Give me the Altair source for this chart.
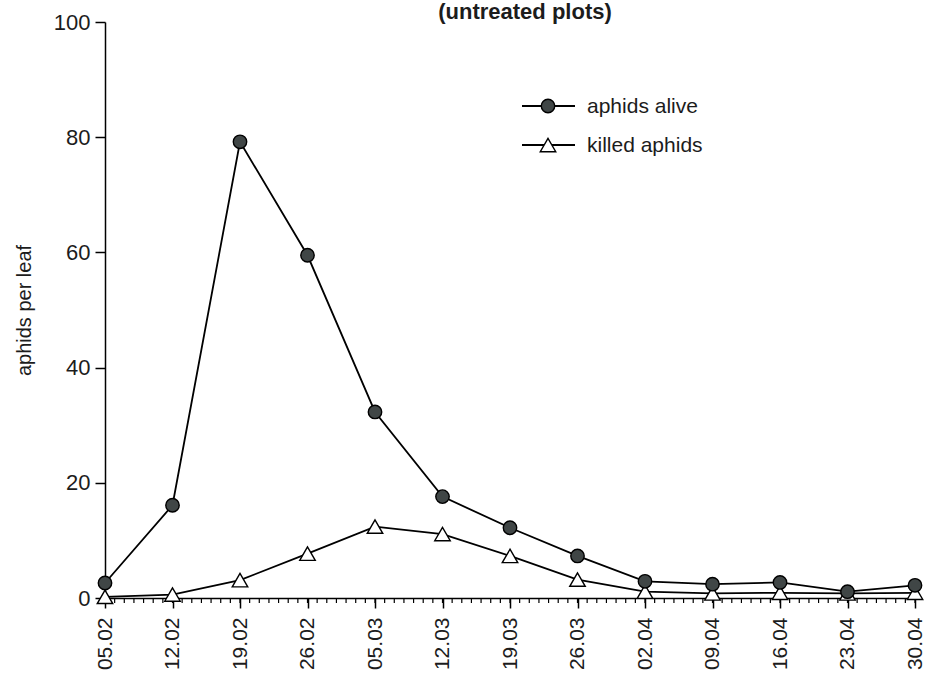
import altair as alt
import pandas as pd

# Sampling dates (weekly) and their offset in days from the first sample
dates = ["05.02", "12.02", "19.02", "26.02", "05.03", "12.03", "19.03",
         "26.03", "02.04", "09.04", "16.04", "23.04", "30.04"]
day_offset = [0, 7, 14, 21, 28, 35, 42, 49, 56, 63, 70, 77, 84]

# Mean number of aphids per leaf
aphids_alive = [2.6, 16.1, 79.2, 59.5, 32.3, 17.6, 12.2, 7.3, 2.9, 2.4, 2.7, 1.1, 2.2]
killed_aphids = [0.2, 0.6, 3.1, 7.7, 12.4, 11.1, 7.3, 3.2, 1.1, 0.8, 0.9, 0.8, 0.9]

series_names = ["aphids alive", "killed aphids"]
y_ticks = [0, 20, 40, 60, 80, 100]
chart_title = "(untreated plots)"
y_title = "aphids per leaf"

FONT = "Liberation Sans"
INK = "#1c1c1c"
CIRCLE_FILL = "#404646"

df = pd.DataFrame({
    "day": day_offset * 2,
    "date": dates * 2,
    "series": [series_names[0]] * len(dates) + [series_names[1]] * len(dates),
    "value": aphids_alive + killed_aphids,
})
minor_days = pd.DataFrame({"day": list(range(day_offset[0], day_offset[-1] + 1))})

label_array = "[" + ",".join(f"'{d}'" for d in dates) + "]"

x_enc = alt.X(
    "day:Q",
    scale=alt.Scale(domain=[day_offset[0], day_offset[-1]], nice=False, zero=False),
    axis=alt.Axis(
        values=day_offset,
        labelExpr=f"{label_array}[round(datum.value / 7)]",
        labelAngle=270,
        labelFontSize=21,
        labelPadding=9,
        tickSize=10,
        title=None,
        grid=False,
    ),
)
y_enc = alt.Y(
    "value:Q",
    scale=alt.Scale(domain=[0, 100], nice=False),
    axis=alt.Axis(
        values=y_ticks,
        labelFontSize=22,
        labelPadding=5,
        tickSize=10,
        title=y_title,
        titleFontSize=20,
        titleFontWeight="normal",
        titlePadding=19,
        grid=False,
    ),
)

base = alt.Chart(df)

# small day ticks along the x axis
minor = alt.Chart(minor_days).mark_rule(color="black", strokeWidth=1.2).encode(
    x=alt.X("day:Q"),
    y=alt.value(576),
    y2=alt.value(581),
)

lines = base.mark_line(color="black", strokeWidth=1.8).encode(
    x=x_enc, y=y_enc, detail="series:N"
)

killed_pts = base.transform_filter(alt.datum.series == series_names[1]).mark_point(
    shape="triangle-up", filled=True, fill="white", stroke="black",
    strokeWidth=1.4, size=240, opacity=1,
).encode(x="day:Q", y="value:Q")

alive_pts = base.transform_filter(alt.datum.series == series_names[0]).mark_point(
    shape="circle", filled=True, fill=CIRCLE_FILL, stroke="black",
    strokeWidth=1.4, size=180, opacity=1,
).encode(x="day:Q", y="value:Q")

# hand-built legend inside the plot
def legend_item(label, shape, fill, size, ypos):
    d = alt.Chart(pd.DataFrame({"label": [label]}))
    rule = d.mark_rule(color="black", strokeWidth=1.8).encode(
        x=alt.value(417), x2=alt.value(470), y=alt.value(ypos)
    )
    sym = d.mark_point(
        shape=shape, filled=True, fill=fill, stroke="black",
        strokeWidth=1.4, size=size, opacity=1,
    ).encode(x=alt.value(443), y=alt.value(ypos))
    txt = d.mark_text(
        align="left", baseline="middle", fontSize=21, font=FONT, color=INK
    ).encode(x=alt.value(482), y=alt.value(ypos + 1), text="label:N")
    return [rule, sym, txt]

legend_layers = (
    legend_item(series_names[0], "circle", CIRCLE_FILL, 180, 84)
    + legend_item(series_names[1], "triangle-up", "white", 240, 123)
)

title = alt.Chart(pd.DataFrame({"t": [chart_title]})).mark_text(
    align="center", baseline="alphabetic", fontSize=22, fontWeight="bold",
    font=FONT, color=INK,
).encode(x=alt.value(420), y=alt.value(-3), text="t:N")

chart = alt.layer(
    minor, lines, killed_pts, alive_pts, *legend_layers, title
).properties(
    width=810,
    height=576,
    autosize="none",
    padding={"left": 105, "top": 22, "right": 10, "bottom": 90},
    background="white",
).configure_view(
    stroke=None
).configure_axis(
    labelFont=FONT,
    titleFont=FONT,
    labelColor=INK,
    titleColor=INK,
    domainColor="black",
    tickColor="black",
    domainWidth=1.5,
    tickWidth=1.5,
)

chart.save("out.html", embed_options={"renderer": "svg", "actions": False})
